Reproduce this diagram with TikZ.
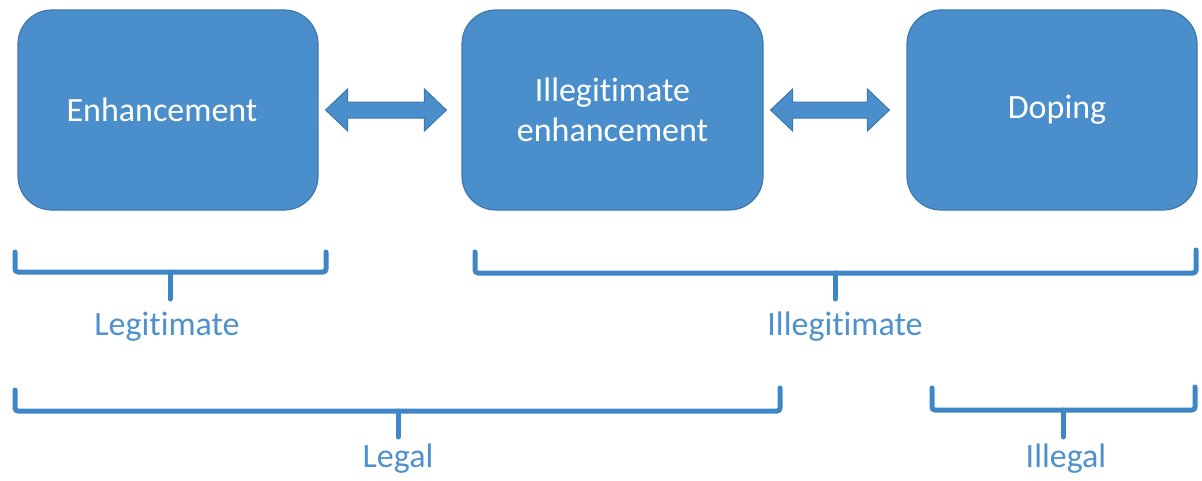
\documentclass[tikz,border=0pt]{standalone}
\usepackage{fontspec}
\setmainfont[RawFeature={-liga;-clig;-dlig;-calt}]{Carlito}
\usetikzlibrary{calc}
\definecolor{boxblue}{HTML}{4A8FCB}
\definecolor{boxedge}{HTML}{3D78AE}
\definecolor{brk}{HTML}{3F86C6}
\definecolor{lbl}{HTML}{4E91CD}
\newcommand{\nl}{\kern0pt }
\tikzset{
  box/.style={draw=boxedge, line width=1.2pt, fill=boxblue, rounded corners=34pt,
    minimum height=200pt, text=white, align=center, inner sep=0pt,
    font=\fontsize{34}{40}\selectfont},
  dblarrow/.style={draw=boxedge, line width=1pt, fill=boxblue, line join=miter},
  bracket/.style={draw=brk, line width=5pt, rounded corners=3pt, line cap=round},
  lab/.style={text=lbl, font=\fontsize{34}{40}\selectfont, inner sep=0pt},
}
\begin{document}
\begin{tikzpicture}[x=1pt, y=-1pt]
\useasboundingbox (0,0) rectangle (1202,480);
% boxes
\node[box, minimum width=300pt] (b1) at (168,110) {Enhancement\hspace{12pt}};
\node[box, minimum width=301pt] (b2) at (612.5,110) {Illegit\nl imate\\enhancement};
\node[box, minimum width=290pt] (b3) at (1052,110) {\hspace{10pt}Doping};
% double arrows
\coordinate (a1) at ([xshift=7pt]b1.east);
\coordinate (a2) at ([xshift=-15pt]b2.west);
\draw[dblarrow] (a1) -- ++(22,-21) -- ++(0,13) -- ([shift={(-22,-8)}]a2) -- ++(0,-13) -- (a2)
  -- ++(-22,21) -- ++(0,-13) -- ([shift={(22,8)}]a1) -- ++(0,13) -- cycle;
\coordinate (a3) at ([xshift=7pt]b2.east);
\coordinate (a4) at ([xshift=-17pt]b3.west);
\draw[dblarrow] (a3) -- ++(22,-21) -- ++(0,13) -- ([shift={(-22,-8)}]a4) -- ++(0,-13) -- (a4)
  -- ++(-22,21) -- ++(0,-13) -- ([shift={(22,8)}]a3) -- ++(0,13) -- cycle;
% labels
\node[lab] (legit) at (167,327) {Legit\nl imate};
\node[lab] (illegit) at (845,327) {Illegit\nl imate};
\node[lab] (legal) at (398,459) {Legal};
\node[lab] (illegal) at (1066,459) {Illegal};
% brackets
\draw[bracket] (15,252) -- (15,272) -- (326,272) -- (326,252);
\draw[bracket] (170,272) -- (170,299);
\draw[bracket] (475,252) -- (475,273) -- (1196,273) -- (1196,250);
\draw[bracket] (835,273) -- (835,299);
\draw[bracket] (15,390) -- (15,411) -- (780,411) -- (780,388);
\draw[bracket] (398,411) -- (398,437);
\draw[bracket] (932,388) -- (932,410) -- (1195,410) -- (1195,387);
\draw[bracket] (1063,410) -- (1063,437);
\end{tikzpicture}
\end{document}
